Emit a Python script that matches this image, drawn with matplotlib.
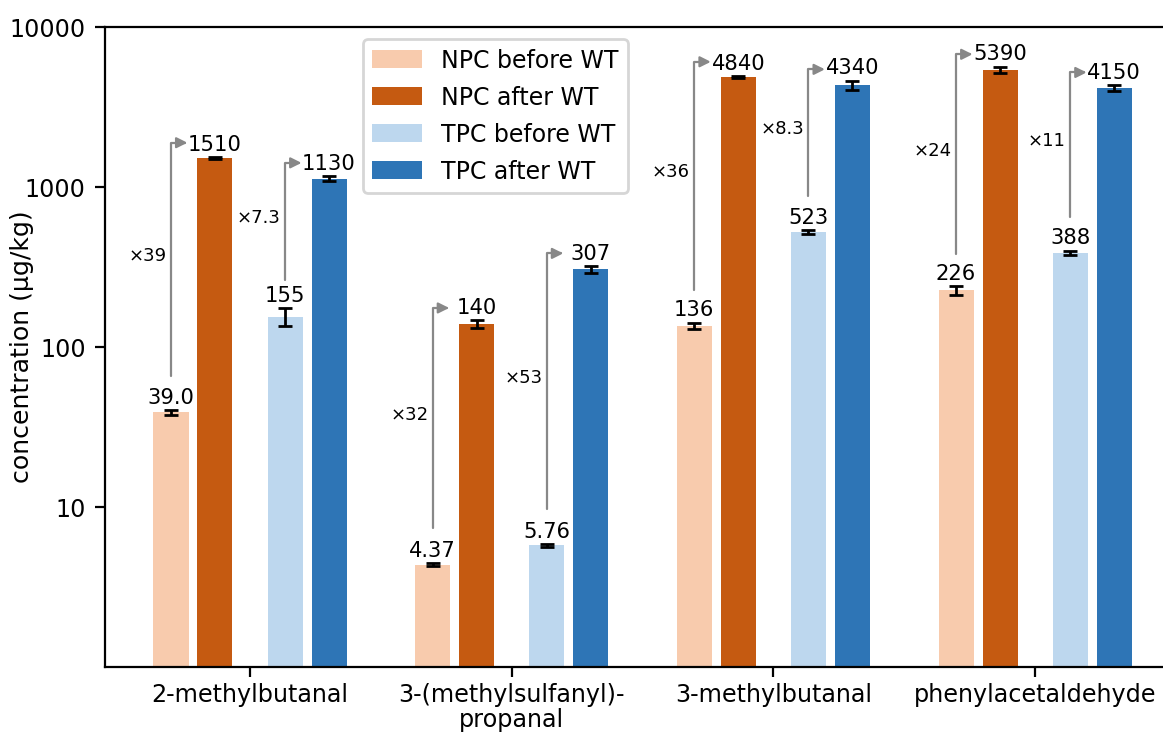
import numpy as np
import matplotlib
matplotlib.use("Agg")
import matplotlib.pyplot as plt
from matplotlib.transforms import offset_copy

compounds = ["2-methylbutanal", "3-(methylsulfanyl)-\npropanal", "3-methylbutanal", "phenylacetaldehyde"]
series = ["NPC before WT", "NPC after WT", "TPC before WT", "TPC after WT"]

npc_before = [39.0, 4.37, 136, 226]
npc_after = [1510, 140, 4840, 5390]
tpc_before = [155, 5.76, 523, 388]
tpc_after = [1130, 307, 4340, 4150]

npc_before_err = [1.2, 0.1, 6, 14]
npc_after_err = [20, 8, 70, 260]
tpc_before_err = [20, 0.12, 17, 12]
tpc_after_err = [40, 15, 290, 165]

colors = ["#f8cbad", "#c55a11", "#bdd7ee", "#2e75b6"]

values = [npc_before, npc_after, tpc_before, tpc_after]
errors = [npc_before_err, npc_after_err, tpc_before_err, tpc_after_err]
offsets = [-0.302, -0.134, 0.134, 0.302]
width = 0.134


def fmt(v):
    return f"{v:.0f}" if v >= 100 else f"{v:#.3g}"


fig = plt.figure(figsize=(5.815, 3.675), dpi=200)
ax = fig.add_axes([0.0903, 0.0925, 0.9244, 0.8707])
ind = np.arange(len(compounds))

for vals, errs, off, col, lab in zip(values, errors, offsets, colors, series):
    ax.bar(ind + off, vals, width, color=col, label=lab, zorder=2)
    ax.errorbar(ind + off, vals, yerr=errs, fmt="none", ecolor="black",
                elinewidth=1, capsize=2.4, capthick=1, zorder=3)
    for x, v, e in zip(ind + off, vals, errs):
        ax.annotate(fmt(v), (x, v + e), xytext=(0, 0.8), textcoords="offset points",
                    ha="center", va="bottom", fontsize=7.6)

# fold-change arrows
pairs = [(0, 1), (2, 3)]
for b, a in pairs:
    for i in ind:
        xb, xa = i + offsets[b], i + offsets[a]
        vb, va = values[b][i], values[a][i]
        start = offset_copy(ax.transData, fig=fig, x=0, y=13, units="points")
        end = offset_copy(ax.transData, fig=fig, x=-9.9, y=5.65, units="points")
        ax.annotate("", xy=(xa, va), xycoords=end, xytext=(xb, vb), textcoords=start,
                    arrowprops=dict(arrowstyle="-|>", color="#888888", lw=0.8,
                                    mutation_scale=8, shrinkA=0, shrinkB=0,
                                    connectionstyle="angle,angleA=90,angleB=0,rad=0"))
        mid = offset_copy(ax.transData, fig=fig, x=-1.6, y=10.5, units="points")
        ax.text(xb, np.sqrt(vb * va), f"\u00d7{va / vb:.2g}", transform=mid,
                ha="right", va="center", fontsize=6.5)

ax.set_yscale("log")
ax.set_ylim(1, 10000)
ax.set_xlim(-0.554, 3.554)
ax.set_yticks([10, 100, 1000, 10000])
ax.set_yticklabels(["10", "100", "1000", "10000"])
ax.yaxis.set_minor_locator(matplotlib.ticker.NullLocator())
ax.set_xticks(ind)
ax.set_xticklabels(compounds, linespacing=1.05)
ax.tick_params(labelsize=8.6)
ax.tick_params(axis="x", pad=2.4)
ax.set_ylabel("concentration (\u00b5g/kg)", fontsize=9.1)
ax.yaxis.set_label_coords(-0.066, 0.5)

ax.legend(loc="upper left", bbox_to_anchor=(0.240, 0.981), borderaxespad=0,
          fontsize=8.5, handlelength=2.1, handleheight=0.8, labelspacing=0.55)

fig.savefig("out.png", dpi=200)
